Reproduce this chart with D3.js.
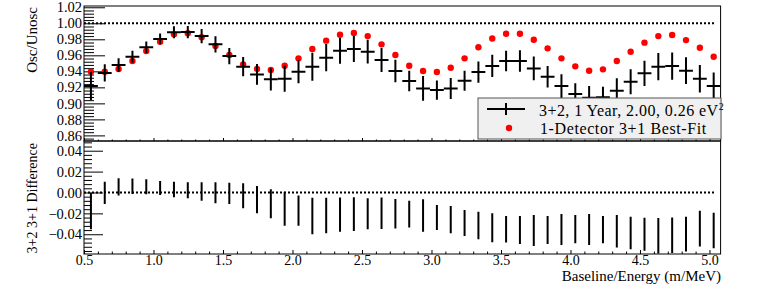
<!DOCTYPE html>
<html><head><meta charset="utf-8">
<script src="https://cdn.jsdelivr.net/npm/d3@7"></script>
<style>
body{margin:0;background:#fff}
svg{display:block}
text{font-family:"Liberation Serif","Times New Roman",serif;fill:#000}
</style>
</head><body>
<svg id="chart" width="759" height="284"></svg>
<script>
// ---------- data ----------
const xMin = 0.5, xMax = 5.08, nBins = 46;
const oscValues = [0.9216,0.9380,0.9479,0.9583,0.9700,0.9804,0.9887,0.9890,0.9840,0.9737,
  0.9591,0.9458,0.9362,0.9300,0.9308,0.9395,0.9458,0.9570,0.9658,0.9679,
  0.9645,0.9541,0.9404,0.9279,0.9187,0.9166,0.9187,0.9283,0.9391,0.9468,
  0.9529,0.9529,0.9437,0.9333,0.9216,0.9116,0.9070,0.9075,0.9158,0.9270,
  0.9375,0.9458,0.9466,0.9408,0.9308,0.9216];
const oscErrors = [0.0175,0.0107,0.0083,0.0075,0.0072,0.0067,0.0075,0.0077,0.0088,0.0101,
  0.0102,0.0120,0.0130,0.0139,0.0163,0.0144,0.0175,0.0170,0.0163,0.0161,
  0.0148,0.0150,0.0141,0.0129,0.0155,0.0120,0.0131,0.0124,0.0132,0.0139,
  0.0127,0.0134,0.0148,0.0134,0.0148,0.0136,0.0148,0.0131,0.0156,0.0156,
  0.0158,0.0170,0.0170,0.0167,0.0172,0.0170];
const bestFitValues = [0.9395,0.9395,0.9430,0.9529,0.9654,0.9770,0.9862,0.9875,0.9825,0.9716,
  0.9604,0.9487,0.9430,0.9416,0.9470,0.9562,0.9679,0.9783,0.9858,0.9879,
  0.9840,0.9737,0.9604,0.9470,0.9404,0.9391,0.9445,0.9562,0.9700,0.9810,
  0.9870,0.9870,0.9795,0.9687,0.9562,0.9462,0.9408,0.9425,0.9529,0.9645,
  0.9758,0.9840,0.9854,0.9790,0.9695,0.9583];
const diffValues = [-0.0177,-0.0003,0.0053,0.0060,0.0055,0.0043,0.0029,0.0021,0.0010,-0.0003,
  -0.0008,-0.0032,-0.0069,-0.0108,-0.0155,-0.0174,-0.0225,-0.0220,-0.0212,-0.0207,
  -0.0204,-0.0199,-0.0203,-0.0207,-0.0220,-0.0239,-0.0260,-0.0292,-0.0316,-0.0338,
  -0.0352,-0.0359,-0.0364,-0.0359,-0.0354,-0.0351,-0.0354,-0.0356,-0.0371,-0.0388,
  -0.0399,-0.0415,-0.0410,-0.0399,-0.0346,-0.0364];
const yTopTicks = [0.86,0.88,0.90,0.92,0.94,0.96,0.98,1.00,1.02];
const yBotTicks = [-0.04,-0.02,0.00,0.02,0.04];
const xTicks = [0.5,1.0,1.5,2.0,2.5,3.0,3.5,4.0,4.5,5.0];
const legendLabels = ["3+2, 1 Year, 2.00, 0.26 eV", "1-Detector 3+1 Best-Fit"];
const xTitle = "Baseline/Energy (m/MeV)";
const yTopTitle = "Osc/Unosc";
const yBotTitle = "3+2 3+1 Difference";

// ---------- layout ----------
const L = 84, R = 720.6, T1 = 6, B1 = 141, T2 = 141, B2 = 254;
const svg = d3.select("#chart");
const x = d3.scaleLinear().domain([xMin, xMax]).range([L, R]);
const yTop = d3.scaleLinear().domain([0.853, 1.0216]).range([B1, T1]);
const yBot = d3.scaleLinear().domain([-0.0589, 0.0493]).range([B2, T2]);
const binW = (xMax - xMin) / nBins;
const centers = oscValues.map((_, i) => xMin + binW * (i + 0.5));

const defs = svg.append("defs");
defs.append("clipPath").attr("id","clipTop").append("rect")
  .attr("x",L).attr("y",T1).attr("width",R-L).attr("height",B1-T1);
defs.append("clipPath").attr("id","clipBot").append("rect")
  .attr("x",L).attr("y",T2).attr("width",R-L).attr("height",B2-T2);

// minor tick positions
const notMajor = v => Math.abs(v*50 - Math.round(v*50)) > 1e-6;
const minorTop = d3.range(0, 45).map(k => +(0.856 + k*0.004).toFixed(3)).filter(v => v <= 1.0216).filter(notMajor);
const minorBot = d3.range(0, 30).map(k => +(-0.056 + k*0.004).toFixed(3)).filter(v => v <= 0.0493).filter(notMajor);
const minorX = d3.range(5, 51).map(k => k/10).filter(v => v <= xMax && Math.abs(v*2 - Math.round(v*2)) > 1e-6);

function styleAxis(g){
  g.select(".domain").remove();
  g.selectAll(".tick line").attr("stroke","#000").attr("stroke-width",1);
  g.selectAll("text").attr("font-size","14.5px").attr("font-family","Liberation Serif, serif");
}

// ---------- top panel axes ----------
svg.append("g").attr("transform",`translate(${L},0)`)
  .call(d3.axisLeft(yTop).tickValues(minorTop).tickSize(-10).tickFormat(""))
  .call(styleAxis);
svg.append("g").attr("transform",`translate(${L},0)`)
  .call(d3.axisLeft(yTop).tickValues(yTopTicks).tickSize(-21).tickPadding(2).tickFormat(d3.format(".2f")))
  .call(styleAxis);
svg.append("g").attr("transform",`translate(0,${B1})`)
  .call(d3.axisBottom(x).tickValues(minorX).tickSize(-1.5).tickFormat(""))
  .call(styleAxis);
svg.append("g").attr("transform",`translate(0,${B1})`)
  .call(d3.axisBottom(x).tickValues(xTicks).tickSize(-3).tickFormat(""))
  .call(styleAxis);

// ---------- bottom panel axes ----------
svg.append("g").attr("transform",`translate(${L},0)`)
  .call(d3.axisLeft(yBot).tickValues(minorBot).tickSize(-8).tickFormat(""))
  .call(styleAxis);
svg.append("g").attr("transform",`translate(${L},0)`)
  .call(d3.axisLeft(yBot).tickValues(yBotTicks).tickSize(-19).tickPadding(2).tickFormat(d3.format(".2f")))
  .call(styleAxis);
svg.append("g").attr("transform",`translate(0,${B2})`)
  .call(d3.axisBottom(x).tickValues(minorX).tickSize(-2.5).tickFormat(""))
  .call(styleAxis);
svg.append("g").attr("transform",`translate(0,${B2})`)
  .call(d3.axisBottom(x).tickValues(xTicks).tickSize(-4).tickPadding(1).tickFormat(d3.format(".1f")))
  .call(styleAxis)
  .call(g => g.selectAll("text").attr("font-size","14px"));

// ---------- reference dotted lines ----------
svg.append("line").attr("x1",x(xMin)).attr("x2",x(5.04))
  .attr("y1",yTop(1)).attr("y2",yTop(1))
  .attr("stroke","#000").attr("stroke-width",2).attr("stroke-dasharray","2,2");
svg.append("line").attr("x1",x(xMin)).attr("x2",x(5.04))
  .attr("y1",yBot(0)).attr("y2",yBot(0))
  .attr("stroke","#000").attr("stroke-width",2).attr("stroke-dasharray","2,2");

// ---------- top panel data ----------
const gTop = svg.append("g").attr("clip-path","url(#clipTop)");
gTop.selectAll("circle.bf").data(bestFitValues).join("circle")
  .attr("class","bf").attr("cx",(d,i)=>x(centers[i])).attr("cy",d=>yTop(d))
  .attr("r",3.2).attr("fill","#ff0000");
const cross = gTop.selectAll("g.cross").data(oscValues).join("g").attr("class","cross");
cross.append("line")
  .attr("x1",(d,i)=>x(centers[i]-binW/2)).attr("x2",(d,i)=>x(centers[i]+binW/2))
  .attr("y1",d=>yTop(d)).attr("y2",d=>yTop(d))
  .attr("stroke","#000").attr("stroke-width",2);
cross.append("line")
  .attr("x1",(d,i)=>x(centers[i])).attr("x2",(d,i)=>x(centers[i]))
  .attr("y1",(d,i)=>yTop(d-oscErrors[i])).attr("y2",(d,i)=>yTop(d+oscErrors[i]))
  .attr("stroke","#000").attr("stroke-width",2);

// ---------- bottom panel data ----------
const gBot = svg.append("g").attr("clip-path","url(#clipBot)");
gBot.selectAll("line.diff").data(diffValues).join("line").attr("class","diff")
  .attr("x1",(d,i)=>x(centers[i])).attr("x2",(d,i)=>x(centers[i]))
  .attr("y1",(d,i)=>yBot(d-oscErrors[i])).attr("y2",(d,i)=>yBot(d+oscErrors[i]))
  .attr("stroke","#000").attr("stroke-width",2);

// ---------- frames ----------
svg.append("rect").attr("x",L).attr("y",T1).attr("width",R-L).attr("height",B1-T1)
  .attr("fill","none").attr("stroke","#000").attr("stroke-width",1);
svg.append("rect").attr("x",L).attr("y",T2).attr("width",R-L).attr("height",B2-T2)
  .attr("fill","none").attr("stroke","#000").attr("stroke-width",1);

// ---------- legend ----------
const lg = svg.append("g");
lg.append("rect").attr("x",478).attr("y",98).attr("width",243).attr("height",41)
  .attr("fill","#f0f0f0").attr("stroke","#555").attr("stroke-width",1);
lg.append("line").attr("x1",487).attr("x2",525).attr("y1",109).attr("y2",109)
  .attr("stroke","#000").attr("stroke-width",2);
lg.append("line").attr("x1",506).attr("x2",506).attr("y1",103).attr("y2",115)
  .attr("stroke","#000").attr("stroke-width",2);
const t1 = lg.append("text").attr("x",539).attr("y",110).attr("dy","0.35em")
  .attr("font-size","16px").attr("letter-spacing","0.45px");
t1.append("tspan").text(legendLabels[0]);
t1.append("tspan").attr("dy","-6").attr("font-size","10px").text("2");
lg.append("circle").attr("cx",509).attr("cy",128).attr("r",3.2).attr("fill","#ff0000");
lg.append("text").attr("x",540).attr("y",128).attr("dy","0.35em")
  .attr("font-size","16px").attr("letter-spacing","0.6px").text(legendLabels[1]);

// ---------- titles ----------
svg.append("text").attr("transform","translate(37,7) rotate(-90)")
  .attr("text-anchor","end").attr("font-size","15px").text(yTopTitle);
svg.append("text").attr("transform","translate(37,143) rotate(-90)")
  .attr("text-anchor","end").attr("font-size","14px").text(yBotTitle);
svg.append("text").attr("x",721).attr("y",281).attr("text-anchor","end")
  .attr("font-size","15px").text(xTitle);
</script>
</body></html>
